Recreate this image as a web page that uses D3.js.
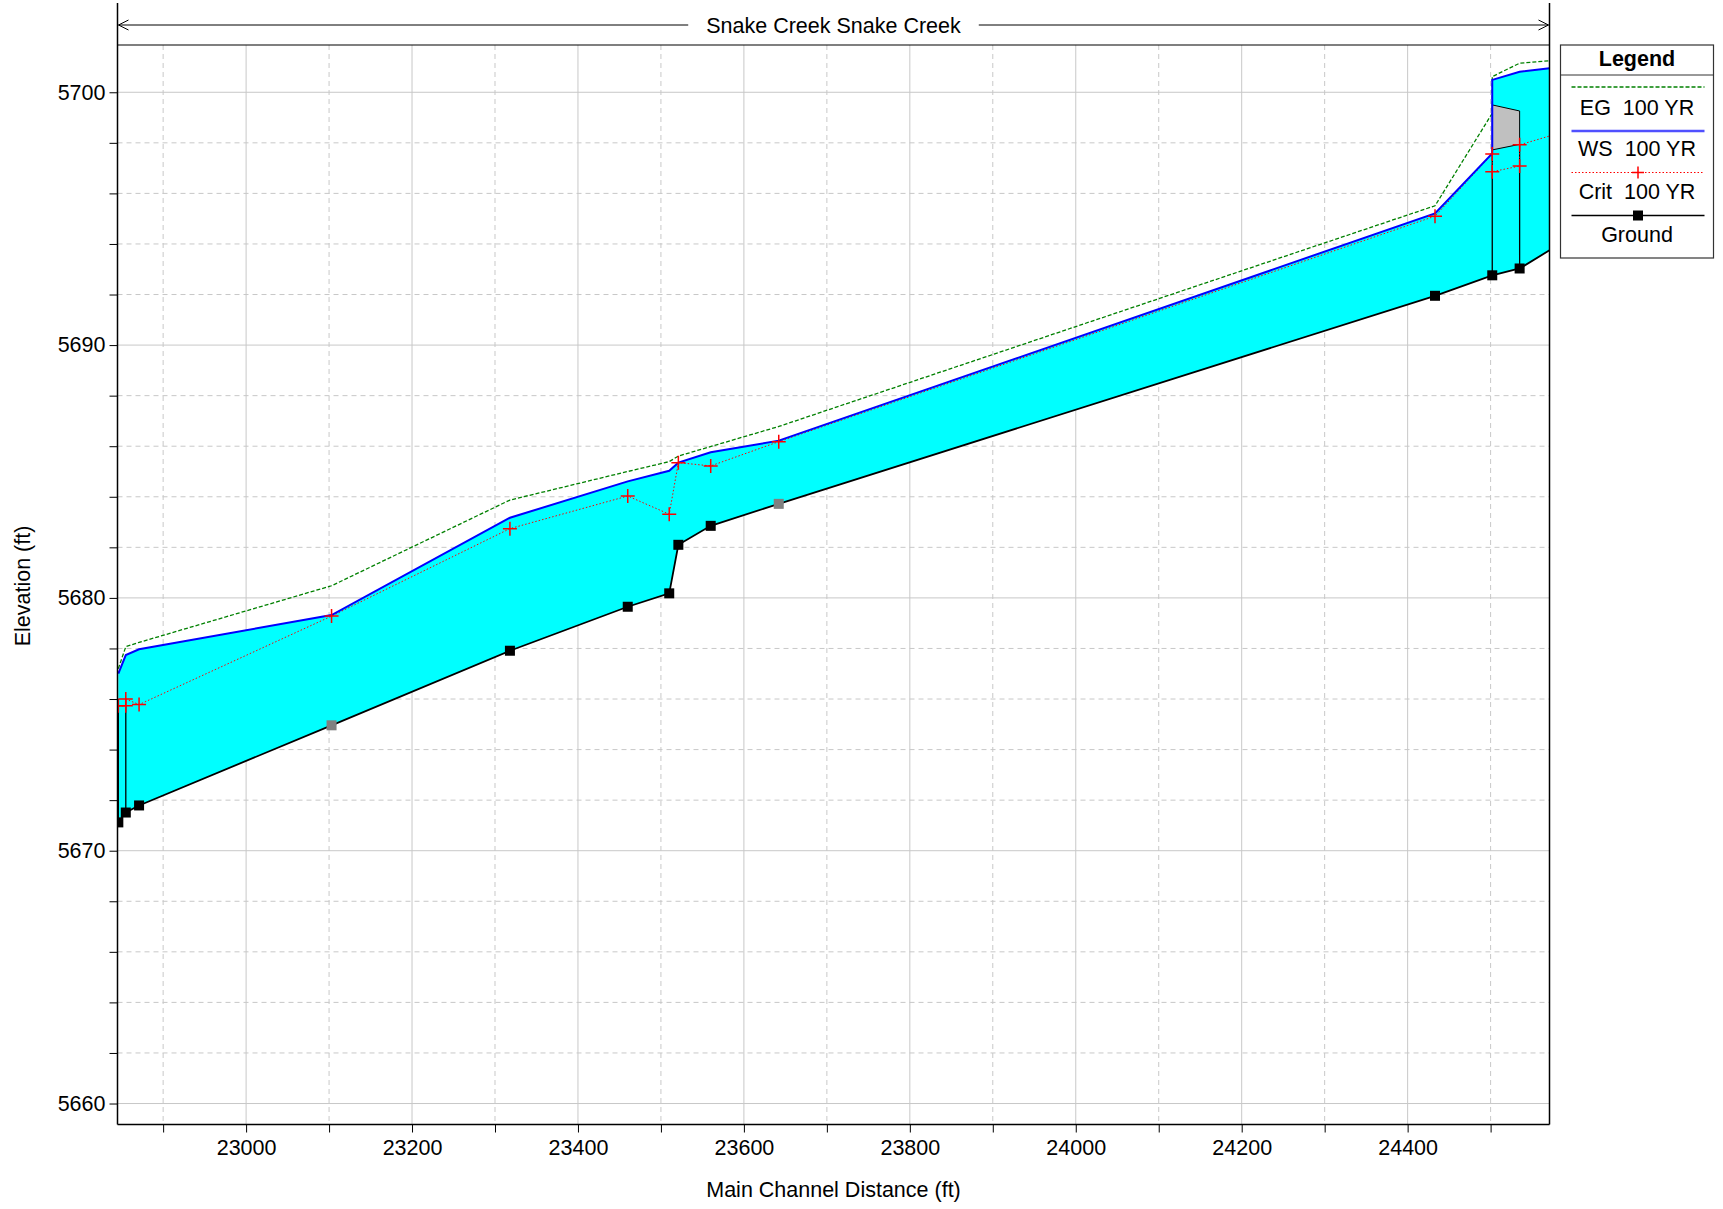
<!DOCTYPE html>
<html>
<head>
<meta charset="utf-8">
<script src="https://cdn.jsdelivr.net/npm/d3@7"></script>
<style>
  body { margin: 0; background: #fff; }
  svg { display: block; font-family: Arial, "Liberation Sans", sans-serif; }
</style>
</head>
<body>
<svg id="chart"></svg>
<script>
let width = 1723
let height = 1209
let plotLeft = 117.5
let plotRight = 1549.5
let plotTop = 45
let plotBottom = 1124.5
let fontSize = '21.5px'

const title = 'Snake Creek Snake Creek'
const xLabel = 'Main Channel Distance (ft)'
const yLabel = 'Elevation (ft)'

const xTicks = [23000, 23200, 23400, 23600, 23800, 24000, 24200, 24400]
const xMinorTicks = [22900, 23100, 23300, 23500, 23700, 23900, 24100, 24300, 24500]
const yTicks = [5660, 5670, 5680, 5690, 5700]
const yMinorTicks = [5662, 5664, 5666, 5668, 5672, 5674, 5676, 5678, 5682, 5684, 5686, 5688, 5692, 5694, 5696, 5698]

// ground (channel invert) at each cross section
const stations = [22846, 22855, 22871, 23103, 23318, 23460, 23510, 23521, 23560, 23642, 24433, 24502, 24535, 24571]
const groundElev = [5671.12, 5671.51, 5671.79, 5674.96, 5677.91, 5679.65, 5680.18, 5682.10, 5682.85, 5683.72, 5691.95, 5692.76, 5693.03, 5693.75]
const groundMarker = ['black', 'black', 'black', 'gray', 'black', 'black', 'black', 'black', 'black', 'gray', 'black', 'black', 'black', 'none']

// water surface 100 YR
const wsX = [22846, 22855, 22871, 23103, 23318, 23460, 23510, 23521, 23560, 23642, 24433, 24502, 24502, 24535, 24571]
const wsElev = [5677.0, 5677.74, 5677.97, 5679.32, 5683.17, 5684.61, 5685.03, 5685.35, 5685.76, 5686.22, 5695.21, 5697.58, 5700.49, 5700.81, 5700.95]

// energy grade 100 YR
const egX = [22846, 22855, 22871, 23103, 23318, 23460, 23510, 23521, 23642, 24433, 24502, 24502, 24535, 24571]
const egElev = [5677.2, 5678.07, 5678.24, 5680.48, 5683.87, 5685.0, 5685.39, 5685.61, 5686.78, 5695.51, 5699.17, 5700.62, 5701.15, 5701.25]

// critical depth 100 YR
const critX = [22846, 22855, 22855, 22871, 23103, 23318, 23460, 23510, 23521, 23560, 23642, 24433, 24502, 24502, 24535, 24535, 24571]
const critElev = [5675.73, 5675.73, 5676.0, 5675.78, 5679.28, 5682.74, 5684.03, 5683.31, 5685.35, 5685.22, 5686.18, 5695.1, 5697.56, 5696.86, 5697.08, 5697.92, 5698.27]
const critMarked = [true, true, true, true, true, true, true, true, true, true, true, true, true, true, true, true, false]

// structures: culvert walls at the downstream end, bridge deck upstream
const culvertX = [22846, 22855]
const culvertTop = [5675.73, 5675.73]
const deckX = [24502, 24535]
const deckHigh = [5699.50, 5699.26]
const deckLow = [5697.72, 5697.94]

const legendNames = ['EG  100 YR', 'WS  100 YR', 'Crit  100 YR', 'Ground']

let xScale = d3.scaleLinear()
               .domain([22845, 24571])
               .range([plotLeft, plotRight])

let yScale = d3.scaleLinear()
               .domain([5659.17, 5701.87])
               .range([plotBottom, plotTop])

let svg = d3.select('#chart')
            .attr('width', width)
            .attr('height', height)

svg.append('defs')
  .append('clipPath')
    .attr('id', 'plot-clip')
  .append('rect')
    .attr('x', plotLeft)
    .attr('y', plotTop)
    .attr('width', plotRight - plotLeft)
    .attr('height', plotBottom - plotTop)

// grid
let grid = svg.append('g')

grid.selectAll('.xmaj')
  .data(xTicks)
  .enter()
  .append('line')
    .attr('x1', d => xScale(d)).attr('x2', d => xScale(d))
    .attr('y1', plotTop).attr('y2', plotBottom)
    .attr('stroke', '#c8c8c8')

grid.selectAll('.xmin')
  .data(xMinorTicks)
  .enter()
  .append('line')
    .attr('x1', d => xScale(d)).attr('x2', d => xScale(d))
    .attr('y1', plotTop).attr('y2', plotBottom)
    .attr('stroke', '#c8c8c8')
    .attr('stroke-dasharray', '5,4')

grid.selectAll('.ymaj')
  .data(yTicks)
  .enter()
  .append('line')
    .attr('x1', plotLeft).attr('x2', plotRight)
    .attr('y1', d => yScale(d)).attr('y2', d => yScale(d))
    .attr('stroke', '#c8c8c8')

grid.selectAll('.ymin')
  .data(yMinorTicks)
  .enter()
  .append('line')
    .attr('x1', plotLeft).attr('x2', plotRight)
    .attr('y1', d => yScale(d)).attr('y2', d => yScale(d))
    .attr('stroke', '#c8c8c8')
    .attr('stroke-dasharray', '5,4')

let plot = svg.append('g')
                .attr('clip-path', 'url(#plot-clip)')

let ground = stations.map((s, i) => [s, groundElev[i]])
let ws = wsX.map((s, i) => [s, wsElev[i]])
let eg = egX.map((s, i) => [s, egElev[i]])
let crit = critX.map((s, i) => [s, critElev[i]])

let line = d3.line()
             .x(d => xScale(d[0]))
             .y(d => yScale(d[1]))

// water between water surface and ground
plot.append('path')
    .attr('d', line(ws.concat(ground.slice().reverse())) + 'Z')
    .attr('fill', '#00ffff')

// bridge deck
let deck = deckX.map((s, i) => [s, deckHigh[i]])
                .concat(deckX.map((s, i) => [s, deckLow[i]]).reverse())
plot.append('path')
    .attr('d', line(deck) + 'Z')
    .attr('fill', '#c0c0c0')
    .attr('stroke', '#000')
    .attr('stroke-width', 1)

// bridge walls
plot.selectAll('.pier')
  .data(deckX)
  .enter()
  .append('line')
    .attr('x1', d => xScale(d)).attr('x2', d => xScale(d))
    .attr('y1', d => yScale(groundElev[stations.indexOf(d)]))
    .attr('y2', (d, i) => yScale(deckLow[i]))
    .attr('stroke', '#000')
    .attr('stroke-width', 1.3)

// culvert walls
plot.selectAll('.culvert')
  .data(culvertX)
  .enter()
  .append('line')
    .attr('x1', d => xScale(d)).attr('x2', d => xScale(d))
    .attr('y1', d => yScale(groundElev[stations.indexOf(d)]))
    .attr('y2', (d, i) => yScale(culvertTop[i]))
    .attr('stroke', '#000')
    .attr('stroke-width', 1.3)

plot.append('path')
    .attr('d', line(eg))
    .attr('fill', 'none')
    .attr('stroke', '#008000')
    .attr('stroke-width', 1.3)
    .attr('stroke-dasharray', '4,2')

plot.append('path')
    .attr('d', line(crit))
    .attr('fill', 'none')
    .attr('stroke', '#ff0000')
    .attr('stroke-width', 1)
    .attr('stroke-dasharray', '1.5,2')

plot.append('path')
    .attr('d', line(ws))
    .attr('fill', 'none')
    .attr('stroke', '#0000ff')
    .attr('stroke-width', 2)

plot.append('path')
    .attr('d', line(ground))
    .attr('fill', 'none')
    .attr('stroke', '#000')
    .attr('stroke-width', 1.8)

plot.selectAll('.crit')
  .data(crit.filter((d, i) => critMarked[i]))
  .enter()
  .append('path')
    .attr('transform', d => `translate(${xScale(d[0])},${yScale(d[1])})`)
    .attr('d', 'M-7,0H7M0,-7V7')
    .attr('stroke', '#ff0000')
    .attr('stroke-width', 1.5)

plot.selectAll('.gmark')
  .data(ground.filter((d, i) => groundMarker[i] !== 'none'))
  .enter()
  .append('rect')
    .attr('x', d => xScale(d[0]) - 5)
    .attr('y', d => yScale(d[1]) - 5)
    .attr('width', 10)
    .attr('height', 10)
    .attr('fill', d => groundMarker[stations.indexOf(d[0])] === 'gray' ? '#808080' : '#000')

// axes
let xAxis = d3.axisBottom(xScale)
              .tickValues(xTicks)
              .tickSize(8)
              .tickPadding(7)
              .tickFormat(d3.format('d'))

let yAxis = d3.axisLeft(yScale)
              .tickValues(yTicks)
              .tickSize(8)
              .tickPadding(4)
              .tickFormat(d3.format('d'))

svg.append('g')
    .attr('transform', `translate(0, ${plotBottom})`)
    .call(xAxis)
    .call(g => g.select('.domain').remove())
    .call(g => g.selectAll('text').style('font-size', fontSize).style('font-family', 'Arial, "Liberation Sans", sans-serif'))

svg.append('g')
    .attr('transform', `translate(0, ${plotBottom})`)
    .call(d3.axisBottom(xScale).tickValues(xMinorTicks).tickSize(8).tickFormat(''))
    .call(g => g.select('.domain').remove())

svg.append('g')
    .attr('transform', `translate(${plotLeft}, 0)`)
    .call(yAxis)
    .call(g => g.select('.domain').remove())
    .call(g => g.selectAll('text').style('font-size', fontSize).style('font-family', 'Arial, "Liberation Sans", sans-serif'))

svg.append('g')
    .attr('transform', `translate(${plotLeft}, 0)`)
    .call(d3.axisLeft(yScale).tickValues(yMinorTicks).tickSize(8).tickFormat(''))
    .call(g => g.select('.domain').remove())

// frame
svg.append('line')
    .attr('x1', plotLeft).attr('x2', plotLeft)
    .attr('y1', 3).attr('y2', plotBottom)
    .attr('stroke', '#000').attr('stroke-width', 1.5)
svg.append('line')
    .attr('x1', plotRight).attr('x2', plotRight)
    .attr('y1', 3).attr('y2', plotBottom)
    .attr('stroke', '#000').attr('stroke-width', 1.5)
svg.append('line')
    .attr('x1', plotLeft).attr('x2', plotRight)
    .attr('y1', plotTop).attr('y2', plotTop)
    .attr('stroke', '#000').attr('stroke-width', 1.2)
svg.append('line')
    .attr('x1', plotLeft).attr('x2', plotRight)
    .attr('y1', plotBottom).attr('y2', plotBottom)
    .attr('stroke', '#000').attr('stroke-width', 1.5)

// reach title with arrows
let titleY = 25
let mid = (plotLeft + plotRight) / 2
let titleText = svg.append('text')
    .attr('x', mid)
    .attr('y', titleY)
    .attr('dy', '0.35em')
    .style('text-anchor', 'middle')
    .style('font-size', fontSize)
    .text(title)
let tw = titleText.node().getComputedTextLength()
svg.append('line')
    .attr('x1', plotLeft + 1).attr('x2', mid - tw / 2 - 18)
    .attr('y1', titleY).attr('y2', titleY)
    .attr('stroke', '#000')
svg.append('line')
    .attr('x1', mid + tw / 2 + 18).attr('x2', plotRight - 1)
    .attr('y1', titleY).attr('y2', titleY)
    .attr('stroke', '#000')
svg.append('path')
    .attr('d', `M${plotLeft + 11},${titleY - 5}L${plotLeft + 1},${titleY}L${plotLeft + 11},${titleY + 5}`)
    .attr('fill', 'none').attr('stroke', '#000')
svg.append('path')
    .attr('d', `M${plotRight - 11},${titleY - 5}L${plotRight - 1},${titleY}L${plotRight - 11},${titleY + 5}`)
    .attr('fill', 'none').attr('stroke', '#000')

// axis titles
svg.append('text')
    .attr('x', mid)
    .attr('y', 1197)
    .style('text-anchor', 'middle')
    .style('font-size', fontSize)
    .text(xLabel)

svg.append('text')
    .attr('transform', 'rotate(-90)')
    .attr('x', -586)
    .attr('y', 30)
    .style('text-anchor', 'middle')
    .style('font-size', fontSize)
    .text(yLabel)

// legend
let lg = svg.append('g')
lg.append('rect')
    .attr('x', 1560.5).attr('y', 45)
    .attr('width', 153).attr('height', 213)
    .attr('fill', '#fff')
    .attr('stroke', '#333').attr('stroke-width', 1.2)
lg.append('text')
    .attr('x', 1637).attr('y', 58)
    .attr('dy', '0.35em')
    .style('text-anchor', 'middle')
    .style('font-size', fontSize)
    .style('font-weight', 'bold')
    .text('Legend')
lg.append('line')
    .attr('x1', 1560.5).attr('x2', 1713.5)
    .attr('y1', 75).attr('y2', 75)
    .attr('stroke', '#333')

let legendLineY = [87, 131, 172.5, 215.5]
let legendTextY = [107, 148, 191, 234]
let legendStyles = [
  { stroke: '#008000', width: 1.3, dash: '4,2' },
  { stroke: '#5050ff', width: 2.5, dash: null },
  { stroke: '#ff0000', width: 1, dash: '1.5,2' },
  { stroke: '#000', width: 1.5, dash: null }
]

legendNames.forEach((name, i) => {
  lg.append('line')
      .attr('x1', 1571.5).attr('x2', 1704.5)
      .attr('y1', legendLineY[i]).attr('y2', legendLineY[i])
      .attr('stroke', legendStyles[i].stroke)
      .attr('stroke-width', legendStyles[i].width)
      .attr('stroke-dasharray', legendStyles[i].dash)
  lg.append('text')
      .attr('x', 1637).attr('y', legendTextY[i])
      .attr('dy', '0.35em')
      .style('text-anchor', 'middle')
      .style('font-size', fontSize)
      .style('white-space', 'pre')
      .text(name)
})
lg.append('path')
    .attr('transform', `translate(1638, ${legendLineY[2]})`)
    .attr('d', 'M-6,0H6M0,-6V6')
    .attr('stroke', '#ff0000').attr('stroke-width', 1.5)
lg.append('rect')
    .attr('x', 1633).attr('y', legendLineY[3] - 5)
    .attr('width', 10).attr('height', 10)
    .attr('fill', '#000')
</script>
</body>
</html>
